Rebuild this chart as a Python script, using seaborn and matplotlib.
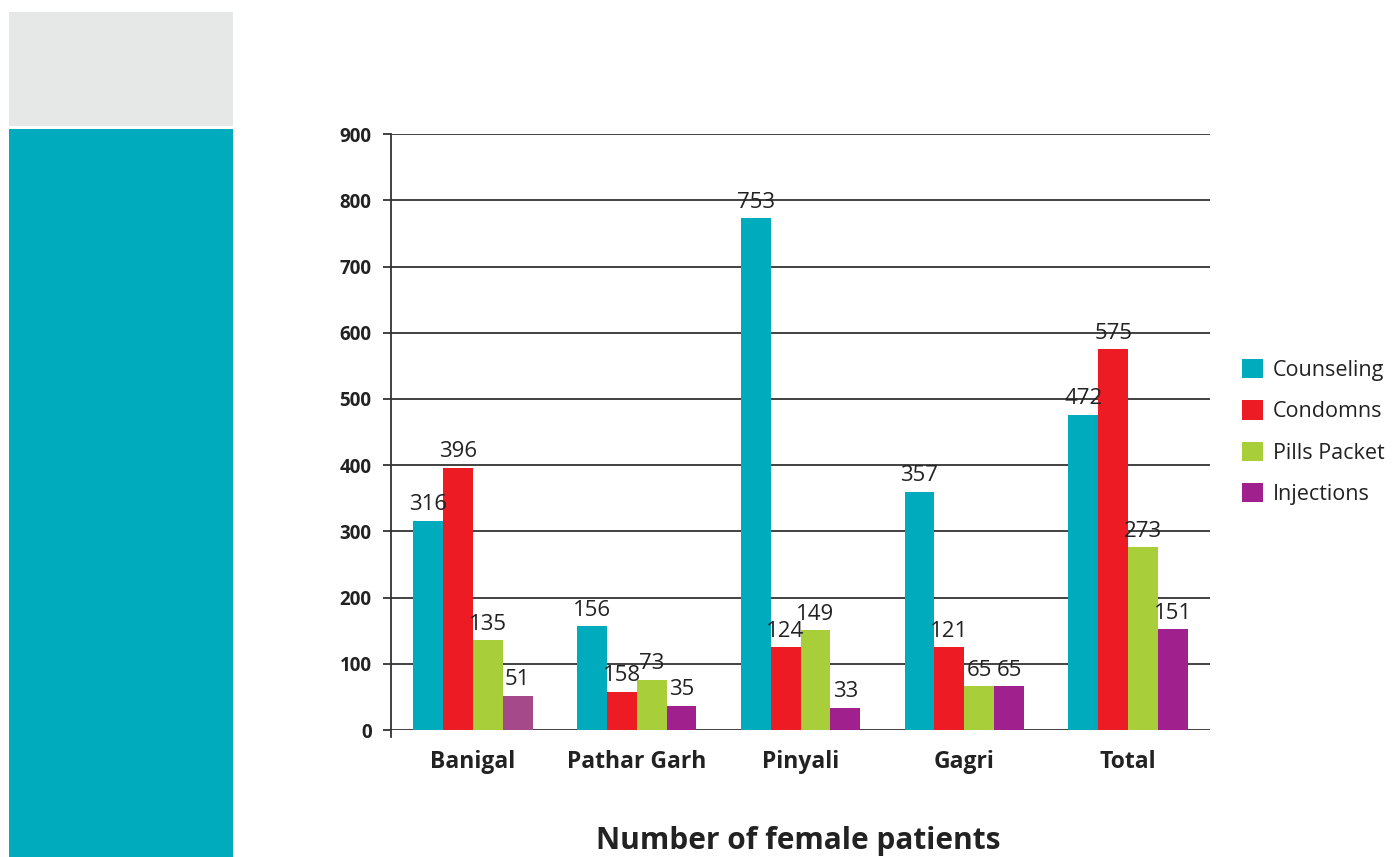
import seaborn as sns
import matplotlib.pyplot as plt
import pandas as pd
from matplotlib.patches import Rectangle

# Data (bar heights; printed labels as shown)
sites = ["Banigal", "Pathar Garh", "Pinyali", "Gagri", "Total"]
series = ["Counseling", "Condomns", "Pills Packet", "Injections"]
counseling = [316, 157, 773, 360, 476]
condoms = [396, 58, 125, 125, 575]
pills = [136, 76, 151, 66, 276]
injections = [52, 37, 34, 66, 152]
label_text = {
    "Counseling": ["316", "156", "753", "357", "472"],
    "Condomns": ["396", "158", "124", "121", "575"],
    "Pills Packet": ["135", "73", "149", "65", "273"],
    "Injections": ["51", "35", "33", "65", "151"],
}
colors = ["#00ABBD", "#ED1C24", "#A8CE3A", "#A0218E"]

df = pd.DataFrame({
    "Site": sites * 4,
    "Series": [s for s in series for _ in sites],
    "Value": counseling + condoms + pills + injections,
})

sns.set_style("white")
plt.rcParams["font.family"] = ["Open Sans", "DejaVu Sans"]

fig = plt.figure(figsize=(13.94, 8.57), dpi=100)

# decorative side panel
fig.patches.append(Rectangle((0.0065, 0.853), 0.1607, 0.133, transform=fig.transFigure,
                             facecolor="#E6E8E7", edgecolor="none", zorder=0))
fig.patches.append(Rectangle((0.0065, 0.0), 0.1607, 0.8495, transform=fig.transFigure,
                             facecolor="#00ABBD", edgecolor="none", zorder=0))

ax = fig.add_axes([0.2805, 0.148, 0.5875, 0.6956])
sns.barplot(data=df, x="Site", y="Value", hue="Series", palette=colors,
            width=0.73, saturation=1, linewidth=0, ax=ax, zorder=3)

# Banigal injections bar is a slightly different purple in the original
ax.containers[3][0].set_facecolor("#A5498A")

for cont, s in zip(ax.containers, series):
    ax.bar_label(cont, labels=label_text[s], padding=4, fontsize=16, color="#222222")

ax.set_ylim(0, 900)
ax.set_yticks(range(0, 901, 100))
ax.yaxis.grid(True, color="#333333", linewidth=1.3, zorder=0)
ax.set_axisbelow(True)
for side in ["top", "right", "bottom"]:
    ax.spines[side].set_visible(False)
ax.spines["left"].set_color("#333333")
ax.spines["left"].set_linewidth(1.3)
ax.spines["left"].set_bounds(-10, 900)
ax.spines["left"].set_clip_on(False)
ax.set_ylim(0, 900)
ax.tick_params(axis="y", left=True, length=6, width=1.3, color="#333333", pad=8,
               labelsize=13.5)
ax.tick_params(axis="x", bottom=False, pad=11, labelsize=16.5)
for t in ax.get_yticklabels() + ax.get_xticklabels():
    t.set_fontweight("bold")
    t.set_color("#222222")
ax.set_ylabel("")
ax.set_xlabel("")
fig.text(0.5725, 0.009, "Number of female patients", fontsize=21.5, fontweight="bold",
         color="#222222", ha="center", va="baseline")

sns.move_legend(ax, "center left", bbox_to_anchor=(1.015, 0.5), frameon=False, title=None,
                fontsize=15.5, handlelength=1.0, handleheight=1.0, handletextpad=0.45,
                labelspacing=0.9)
for t in ax.get_legend().get_texts():
    t.set_color("#222222")

fig.savefig("out.png", dpi=100)
